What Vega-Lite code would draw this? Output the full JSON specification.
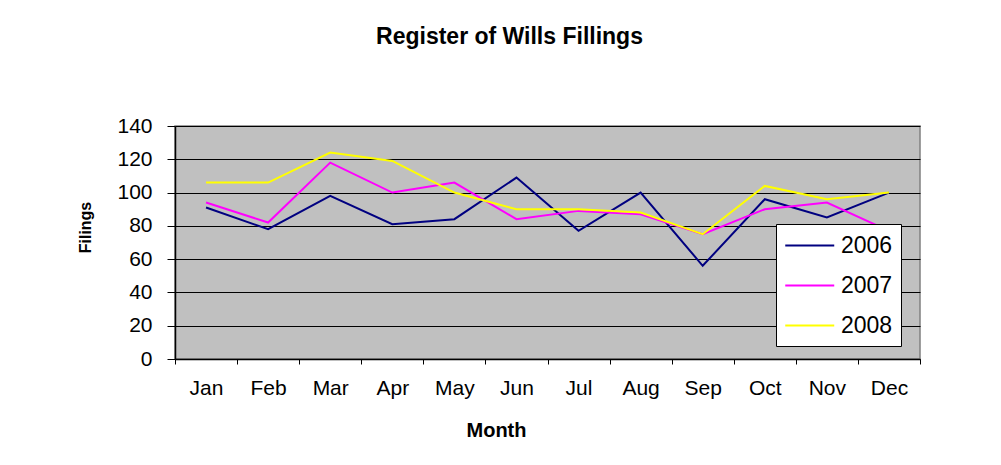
{
  "$schema": "https://vega.github.io/schema/vega-lite/v6.json",
  "autosize": {"type": "none"},
  "width": 745,
  "height": 233,
  "padding": {"left": 175, "top": 126, "right": 81, "bottom": 106},
  "background": "white",
  "config": {
    "font": "Liberation Sans",
    "view": {"fill": "#C0C0C0", "stroke": "#808080", "strokeWidth": 1.5}
  },
  "title": {
    "text": "Register of Wills Fillings",
    "fontSize": 23,
    "fontWeight": "bold",
    "font": "Liberation Sans",
    "color": "black",
    "anchor": "middle",
    "dx": -38,
    "offset": 66
  },
  "data": {
    "values": [
      {"month": "Jan", "year": "2006", "filings": 91},
      {"month": "Feb", "year": "2006", "filings": 78},
      {"month": "Mar", "year": "2006", "filings": 98},
      {"month": "Apr", "year": "2006", "filings": 81},
      {"month": "May", "year": "2006", "filings": 84},
      {"month": "Jun", "year": "2006", "filings": 109},
      {"month": "Jul", "year": "2006", "filings": 77},
      {"month": "Aug", "year": "2006", "filings": 100},
      {"month": "Sep", "year": "2006", "filings": 56},
      {"month": "Oct", "year": "2006", "filings": 96},
      {"month": "Nov", "year": "2006", "filings": 85},
      {"month": "Dec", "year": "2006", "filings": 100},
      {"month": "Jan", "year": "2007", "filings": 94},
      {"month": "Feb", "year": "2007", "filings": 82},
      {"month": "Mar", "year": "2007", "filings": 118},
      {"month": "Apr", "year": "2007", "filings": 100},
      {"month": "May", "year": "2007", "filings": 106},
      {"month": "Jun", "year": "2007", "filings": 84},
      {"month": "Jul", "year": "2007", "filings": 89},
      {"month": "Aug", "year": "2007", "filings": 87},
      {"month": "Sep", "year": "2007", "filings": 75},
      {"month": "Oct", "year": "2007", "filings": 90},
      {"month": "Nov", "year": "2007", "filings": 94},
      {"month": "Dec", "year": "2007", "filings": 77},
      {"month": "Jan", "year": "2008", "filings": 106},
      {"month": "Feb", "year": "2008", "filings": 106},
      {"month": "Mar", "year": "2008", "filings": 124},
      {"month": "Apr", "year": "2008", "filings": 119},
      {"month": "May", "year": "2008", "filings": 100},
      {"month": "Jun", "year": "2008", "filings": 90},
      {"month": "Jul", "year": "2008", "filings": 90},
      {"month": "Aug", "year": "2008", "filings": 88},
      {"month": "Sep", "year": "2008", "filings": 75},
      {"month": "Oct", "year": "2008", "filings": 104},
      {"month": "Nov", "year": "2008", "filings": 96},
      {"month": "Dec", "year": "2008", "filings": 100}
    ]
  },
  "mark": {"type": "line", "strokeWidth": 2},
  "encoding": {
    "x": {
      "field": "month",
      "type": "ordinal",
      "sort": ["Jan","Feb","Mar","Apr","May","Jun","Jul","Aug","Sep","Oct","Nov","Dec"],
      "bandPosition": 0.5,
      "scale": {"type": "band", "paddingInner": 0, "paddingOuter": 0},
      "axis": {
        "title": "Month",
        "titleFontSize": 20,
        "titleFontWeight": "bold",
        "titleColor": "black",
        "titleX": 321,
        "titlePadding": 22,
        "labelAngle": 0,
        "labelFontSize": 21,
        "labelColor": "black",
        "labelPadding": 13,
        "tickBand": "extent",
        "tickColor": "black",
        "tickSize": 5,
        "domainColor": "black",
        "domainWidth": 1.5,
        "grid": false
      }
    },
    "y": {
      "field": "filings",
      "type": "quantitative",
      "scale": {"domain": [0, 140], "nice": false},
      "axis": {
        "title": "Filings",
        "titleFontSize": 16,
        "titleFontWeight": "bold",
        "titleColor": "black",
        "titleY": 101,
        "titlePadding": 23,
        "values": [0, 20, 40, 60, 80, 100, 120, 140],
        "labelFontSize": 21,
        "labelColor": "black",
        "labelPadding": 15,
        "tickColor": "black",
        "tickSize": 8,
        "domainColor": "black",
        "domainWidth": 1.5,
        "grid": true,
        "gridColor": "black",
        "gridWidth": 1,
        "gridOpacity": 1
      }
    },
    "color": {
      "field": "year",
      "type": "nominal",
      "scale": {"domain": ["2006", "2007", "2008"], "range": ["#000080", "#FF00FF", "#FFFF00"]},
      "legend": {
        "title": null,
        "orient": "none",
        "legendX": 601,
        "legendY": 98,
        "fillColor": "white",
        "strokeColor": "black",
        "padding": 8,
        "symbolType": "M-1,0H3",
        "symbolSize": 600,
        "symbolStrokeWidth": 2,
        "labelFontSize": 23,
        "labelColor": "black",
        "labelOffset": 30,
        "rowPadding": 14
      }
    }
  }
}
